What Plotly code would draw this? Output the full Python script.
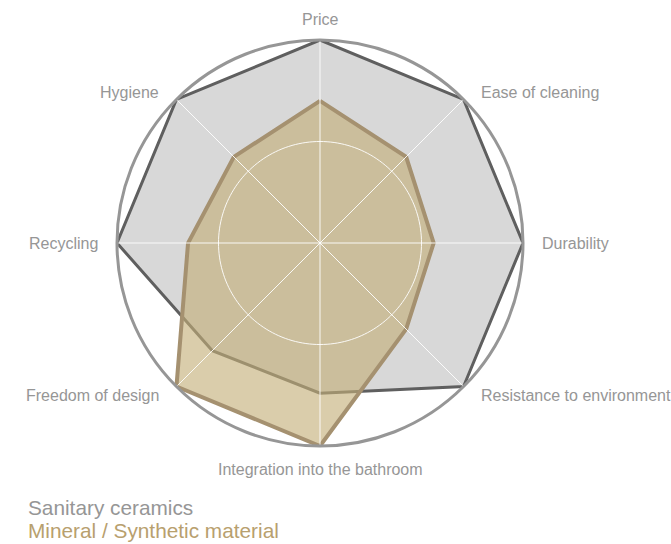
import math
import plotly.graph_objects as go

# Criteria around the radar, clockwise from the top
criteria = [
    "Price",
    "Ease of cleaning",
    "Durability",
    "Resistance to environment",
    "Integration into the bathroom",
    "Freedom of design",
    "Recycling",
    "Hygiene",
]

# Scores on a 0..1 scale
sanitary_ceramics = [1.0, 1.0, 1.0, 1.0, 0.74, 0.75, 1.0, 1.0]
mineral_synthetic = [0.70, 0.60, 0.56, 0.60, 1.0, 1.0, 0.65, 0.60]

series_names = ["Sanitary ceramics", "Mineral / Synthetic material"]

# Inner reference ring
grid_ring = 0.5

GREY_TEXT = "rgb(150,150,150)"
TAN_TEXT = "rgb(184,160,110)"

W, H = 671, 544
M_L, M_T, SIDE = 117, 40, 406          # square plotting area for the polar chart

step = 360 / len(criteria)
angles = [i * step for i in range(len(criteria))]


def closed(values):
    return values + values[:1]


fig = go.Figure()

fig.add_trace(go.Scatterpolar(
    r=closed(sanitary_ceramics),
    theta=closed(angles),
    mode="lines",
    fill="toself",
    fillcolor="rgb(216,216,216)",
    line=dict(color="rgb(95,95,95)", width=3),
    name=series_names[0],
    hoverinfo="skip",
))

fig.add_trace(go.Scatterpolar(
    r=closed(mineral_synthetic),
    theta=closed(angles),
    mode="lines",
    fill="toself",
    fillcolor="rgba(195,174,120,0.62)",
    line=dict(color="rgb(165,145,112)", width=4),
    name=series_names[1],
    hoverinfo="skip",
))

# White grid drawn over the filled areas: spokes and the inner ring
spoke_r, spoke_t = [], []
for a in angles:
    spoke_r += [0, 1, None]
    spoke_t += [a, a, None]
fig.add_trace(go.Scatterpolar(
    r=spoke_r, theta=spoke_t, mode="lines",
    line=dict(color="rgba(255,255,255,0.9)", width=1),
    connectgaps=False, hoverinfo="skip", showlegend=False,
))
ring_t = list(range(0, 361, 2))
fig.add_trace(go.Scatterpolar(
    r=[grid_ring] * len(ring_t), theta=ring_t, mode="lines",
    line=dict(color="rgba(255,255,255,0.9)", width=1),
    hoverinfo="skip", showlegend=False,
))

fig.update_layout(
    width=W,
    height=H,
    margin=dict(l=M_L, r=W - M_L - SIDE, t=M_T, b=H - M_T - SIDE),
    paper_bgcolor="white",
    showlegend=False,
    font=dict(family="Liberation Sans, Arial, sans-serif", color=GREY_TEXT),
    polar=dict(
        bgcolor="white",
        domain=dict(x=[0, 1], y=[0, 1]),
        angularaxis=dict(
            type="linear",
            thetaunit="degrees",
            direction="clockwise",
            rotation=90,
            tickvals=angles,
            showticklabels=False,
            showline=True,
            linecolor="rgb(150,150,150)",
            linewidth=3,
            showgrid=False,
            ticks="",
            layer="above traces",
        ),
        radialaxis=dict(
            range=[0, 1],
            tickvals=[grid_ring],
            showticklabels=False,
            showline=False,
            showgrid=False,
            ticks="",
        ),
    ),
)

# Criterion labels set just outside the rim, aligned away from the centre
R = SIDE / 2
for name, a in zip(criteria, angles):
    s, c = math.sin(math.radians(a)), math.cos(math.radians(a))
    px = R * s            # offset from the centre in pixels (right positive)
    py = R * c            # offset from the centre in pixels (up positive)
    side_gap = 17 if abs(c) < 0.1 else 15.5
    if s > 0.1:
        xanchor, px = "left", px + side_gap
    elif s < -0.1:
        xanchor, px = "right", px - side_gap
    else:
        xanchor = "center"
    if c > 0.9:
        py += 21
    elif c < -0.9:
        py -= 24
    elif c > 0.1:
        py += 7
    elif c < -0.1:
        py -= 8.5
    fig.add_annotation(
        text=name,
        xref="paper", yref="paper",
        x=0.5 + px / SIDE, y=0.5 + py / SIDE,
        xanchor=xanchor, yanchor="middle",
        showarrow=False,
        font=dict(size=16, color=GREY_TEXT),
    )

# Legend written as coloured text lines
for i, (name, col) in enumerate(zip(series_names, [GREY_TEXT, TAN_TEXT])):
    fig.add_annotation(
        text=name,
        xref="paper", yref="paper",
        x=(26 - M_L) / SIDE, y=-(507 + 23 * i - (M_T + SIDE)) / SIDE,
        xanchor="left", yanchor="middle",
        showarrow=False,
        font=dict(size=20.8, color=col),
    )

fig.write_html("out.html")
